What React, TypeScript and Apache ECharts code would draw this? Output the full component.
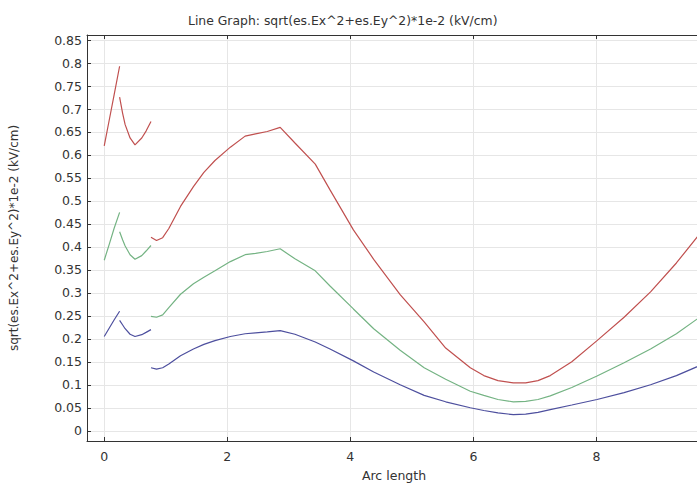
import React, { useEffect, useRef } from "react";
import * as echarts from "echarts";

const titleText = "Line Graph: sqrt(es.Ex^2+es.Ey^2)*1e-2 (kV/cm)";
const yAxisName = "sqrt(es.Ex^2+es.Ey^2)*1e-2 (kV/cm)";
const xAxisName = "Arc length";

const xTicks = [0, 2, 4, 6, 8];
const yTicks = [0, 0.05, 0.1, 0.15, 0.2, 0.25, 0.3, 0.35, 0.4, 0.45, 0.5, 0.55, 0.6, 0.65, 0.7, 0.75, 0.8, 0.85];

// arc length sample positions for the three edge segments
const seg1X = [0, 0.08, 0.16, 0.25];
const seg2X = [0.25, 0.3, 0.34, 0.42, 0.5, 0.61, 0.68, 0.76];
const seg3X = [0.76, 0.85, 0.95, 1.05, 1.24, 1.45, 1.62, 1.8, 2.05, 2.29, 2.46, 2.65, 2.86, 3.1, 3.43, 3.67, 4.05, 4.38, 4.81, 5.2, 5.55, 5.95, 6.17, 6.4, 6.65, 6.85, 7.05, 7.25, 7.6, 8.01, 8.45, 8.88, 9.3, 9.7];

// red curve
const red1 = [0.62, 0.675, 0.73, 0.793];
const red2 = [0.726, 0.69, 0.666, 0.637, 0.622, 0.637, 0.652, 0.673];
const red3 = [0.421, 0.414, 0.42, 0.44, 0.488, 0.531, 0.562, 0.588, 0.617, 0.641, 0.646, 0.651, 0.66, 0.626, 0.58, 0.524, 0.437, 0.373, 0.296, 0.237, 0.18, 0.137, 0.12, 0.109, 0.104, 0.104, 0.109, 0.12, 0.15, 0.196, 0.247, 0.302, 0.365, 0.432];

// green curve
const green1 = [0.371, 0.405, 0.44, 0.475];
const green2 = [0.433, 0.415, 0.402, 0.383, 0.373, 0.381, 0.391, 0.403];
const green3 = [0.249, 0.247, 0.252, 0.268, 0.297, 0.32, 0.334, 0.348, 0.368, 0.383, 0.386, 0.39, 0.396, 0.374, 0.348, 0.315, 0.265, 0.222, 0.175, 0.137, 0.112, 0.086, 0.077, 0.068, 0.063, 0.064, 0.068, 0.076, 0.094, 0.119, 0.148, 0.178, 0.211, 0.249];

// blue curve
const blue1 = [0.205, 0.223, 0.241, 0.26];
const blue2 = [0.24, 0.23, 0.222, 0.21, 0.205, 0.209, 0.214, 0.22];
const blue3 = [0.137, 0.134, 0.137, 0.145, 0.163, 0.178, 0.188, 0.196, 0.205, 0.211, 0.213, 0.215, 0.218, 0.21, 0.193, 0.178, 0.152, 0.128, 0.1, 0.077, 0.063, 0.05, 0.044, 0.039, 0.035, 0.036, 0.04, 0.046, 0.056, 0.068, 0.083, 0.1, 0.12, 0.143];

const seriesDefs = [
  { name: "red", color: "#c0504f", segs: [red1, red2, red3] },
  { name: "green", color: "#74b383", segs: [green1, green2, green3] },
  { name: "blue", color: "#4d4f9e", segs: [blue1, blue2, blue3] },
];

function buildData(segs: number[][]) {
  const xs = [seg1X, seg2X, seg3X];
  const out: any[][] = [];
  segs.forEach((vals, i) => {
    if (i > 0) out.push([xs[i][0], null]);
    vals.forEach((v, j) => out.push([xs[i][j], v]));
  });
  return out;
}

const FONT = "DejaVu Sans";

export default function App() {
  const ref = useRef<HTMLDivElement>(null);
  useEffect(() => {
    if (!ref.current) return;
    const chart = echarts.init(ref.current, null, { renderer: "svg" });
    const xMin = -0.28, xMax = 9.7, yMin = -0.0223, yMax = 0.861;
    const frameLine = { show: true, onZero: false, lineStyle: { color: "#333", width: 1 } };
    const tickStyle = { show: true, inside: true, length: 4, lineStyle: { color: "#333" } };
    chart.setOption({
      animation: false,
      backgroundColor: "#fff",
      title: {
        text: titleText,
        left: 183,
        top: 9,
        textStyle: { fontFamily: FONT, fontSize: 12.4, fontWeight: "normal", color: "#333" },
      },
      grid: { left: 87, top: 35, width: 614, height: 415, show: false },
      xAxis: [
        {
          type: "value", min: xMin, max: xMax, position: "bottom",
          axisLine: frameLine,
          axisTick: { ...tickStyle, customValues: xTicks },
          axisLabel: { customValues: xTicks, margin: 9, fontFamily: FONT, fontSize: 12.5, color: "#333" },
          splitLine: { show: true, lineStyle: { color: "#e6e6e6", width: 1 } },
          name: xAxisName, nameLocation: "middle", nameGap: 28,
          nameTextStyle: { fontFamily: FONT, fontSize: 12.5, color: "#333" },
        },
        {
          type: "value", min: xMin, max: xMax, position: "top",
          axisLine: frameLine,
          axisTick: { ...tickStyle, customValues: xTicks },
          axisLabel: { show: false },
          splitLine: { show: false },
        },
      ],
      yAxis: [
        {
          type: "value", min: yMin, max: yMax, position: "left",
          axisLine: frameLine,
          axisTick: { ...tickStyle, customValues: yTicks },
          axisLabel: {
            customValues: yTicks, margin: 5, fontFamily: FONT, fontSize: 12.5, color: "#333",
            formatter: (v: number) => String(Math.round(v * 100) / 100),
          },
          splitLine: { show: true, lineStyle: { color: "#e6e6e6", width: 1 } },
          name: yAxisName, nameLocation: "middle", nameGap: 67, nameRotate: 90,
          nameTextStyle: { fontFamily: FONT, fontSize: 12, color: "#333" },
        },
        {
          type: "value", min: yMin, max: yMax, position: "right",
          axisLine: frameLine,
          axisTick: { ...tickStyle, customValues: yTicks },
          axisLabel: { show: false },
          splitLine: { show: false },
        },
      ],
      series: seriesDefs.map((s) => ({
        name: s.name,
        type: "line",
        xAxisIndex: 0,
        yAxisIndex: 0,
        data: buildData(s.segs),
        showSymbol: false,
        symbol: "none",
        connectNulls: false,
        lineStyle: { color: s.color, width: 1.2 },
        itemStyle: { color: s.color },
      })),
    });
    return () => chart.dispose();
  }, []);
  return (
    <div style={{ position: "fixed", left: 0, top: 0, width: 697, height: 487, overflow: "hidden", background: "#fff" }}>
      <div ref={ref} style={{ width: 730, height: 487 }} />
    </div>
  );
}
